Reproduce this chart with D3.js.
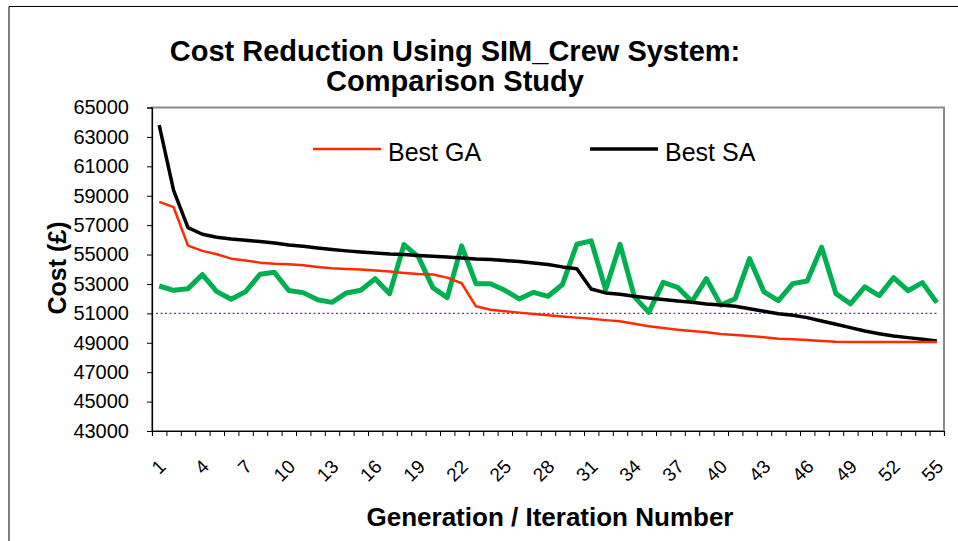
<!DOCTYPE html>
<html>
<head>
<meta charset="utf-8">
<script src="https://cdn.jsdelivr.net/npm/d3@7"></script>
<style>
  html, body { margin: 0; padding: 0; background: #fff; }
  svg { display: block; font-family: "Liberation Sans", Arial, sans-serif; }
</style>
</head>
<body>
<svg id="chart" width="958" height="541"></svg>
<script>
// ── Data ──────────────────────────────────────────────────────────────────────
const iterations = d3.range(1, 56);
const tickLabels = d3.range(1, 56, 3);
const yTicks = d3.range(43000, 65001, 2000);
const targetCost = 51000;

const bestGA = [
  58580, 58220, 55610, 55250, 55020, 54720, 54590, 54450, 54380, 54340,
  54270, 54160, 54070, 54020, 53980, 53910, 53840, 53750, 53680, 53640,
  53430, 53050, 51480, 51250, 51140, 51050, 50960, 50870, 50780, 50710,
  50640, 50540, 50460, 50300, 50120, 50000, 49890, 49800, 49710, 49600,
  49530, 49460, 49370, 49280, 49240, 49190, 49120, 49070, 49060, 49060,
  49060, 49060, 49060, 49060, 49060
];
const bestSA = [
  63800, 59370, 56830, 56380, 56180, 56060, 55970, 55880, 55790, 55650,
  55560, 55450, 55340, 55250, 55180, 55110, 55040, 55000, 54930, 54880,
  54840, 54770, 54700, 54660, 54590, 54520, 54430, 54320, 54160, 54040,
  52660, 52390, 52300, 52160, 52050, 51940, 51840, 51750, 51640, 51570,
  51480, 51320, 51140, 50980, 50870, 50710, 50480, 50260, 50030, 49800,
  49620, 49460, 49350, 49240, 49120
];
const simCrew = [
  52860, 52570, 52680, 53640, 52480, 51960, 52480, 53660, 53790, 52550,
  52410, 51930, 51750, 52390, 52570, 53360, 52340, 55680, 54840, 52750,
  52070, 55590, 53020, 53020, 52570, 51980, 52430, 52160, 52960, 55700,
  55930, 52620, 55700, 52120, 51070, 53110, 52770, 51800, 53360, 51560,
  52000, 54720, 52460, 51860, 53020, 53200, 55500, 52340, 51650, 52800,
  52200, 53430, 52540, 53090, 51730
];

const series = [
  { name: "sim", values: simCrew, color: "#00b050", width: 5 },
  { name: "Best SA", values: bestSA, color: "#000000", width: 3.5 },
  { name: "Best GA", values: bestGA, color: "#ff2a00", width: 2.5 }
];

// ── Layout ────────────────────────────────────────────────────────────────────
const plot = { left: 152, right: 944, top: 107.5, bottom: 431 };
const svg = d3.select("#chart");

// outer chart frame (top + left edges visible)
svg.append("path")
  .attr("d", "M9,541 V6.5 H958")
  .attr("fill", "none").attr("stroke", "#000").attr("stroke-width", 1);

const x = d3.scaleBand().domain(iterations).range([plot.left, plot.right]);
const xEdge = d3.scaleLinear().domain([0, 55]).range([plot.left, plot.right]);
const y = d3.scaleLinear().domain([43000, 65000]).range([plot.bottom, plot.top]);
const px = d => x(d) + x.bandwidth() / 2;

// plot area border
svg.append("rect")
  .attr("x", plot.left).attr("y", plot.top)
  .attr("width", plot.right - plot.left).attr("height", plot.bottom - plot.top)
  .attr("fill", "#fff").attr("stroke", "#8c8c8c").attr("stroke-width", 2);

// ── Axes ──────────────────────────────────────────────────────────────────────
const yAxis = svg.append("g")
  .attr("transform", `translate(${plot.left},0)`)
  .call(d3.axisLeft(y).tickValues(yTicks).tickSize(5).tickPadding(18).tickFormat(d3.format("d")));
yAxis.selectAll("text").attr("font-size", 20).attr("fill", "#000")
  .attr("font-family", "Liberation Sans, Arial, sans-serif");

const xTicks = svg.append("g")
  .attr("transform", `translate(0,${plot.bottom})`)
  .call(d3.axisBottom(xEdge).tickValues(d3.range(56)).tickSize(5).tickFormat(""));

const xLabels = svg.append("g")
  .attr("transform", `translate(0,${plot.bottom})`)
  .call(d3.axisBottom(x).tickValues(tickLabels).tickSize(0));
xLabels.select(".domain").remove();
xLabels.selectAll("text")
  .attr("font-size", 19).attr("fill", "#000")
  .attr("font-family", "Liberation Sans, Arial, sans-serif")
  .attr("text-anchor", "end")
  .attr("y", 0).attr("dy", "0.35em")
  .attr("transform", "translate(3,32) rotate(-45)");

[yAxis, xTicks].forEach(g => {
  g.select(".domain").attr("stroke", "#000").attr("stroke-width", 1.2);
  g.selectAll(".tick line").attr("stroke", "#000");
});

// ── Reference line ────────────────────────────────────────────────────────────
svg.append("line")
  .attr("x1", plot.left + 4).attr("x2", px(55))
  .attr("y1", y(targetCost)).attr("y2", y(targetCost))
  .attr("stroke", "#7030a0").attr("stroke-width", 1.3).attr("stroke-dasharray", "2,2.5");

// ── Lines ─────────────────────────────────────────────────────────────────────
const line = d3.line().x((d, i) => px(iterations[i])).y(d => y(d));
svg.append("g").selectAll("path").data(series).join("path")
  .attr("d", d => line(d.values))
  .attr("fill", "none")
  .attr("stroke", d => d.color)
  .attr("stroke-width", d => d.width)
  .attr("stroke-linejoin", "round");

// ── Legend ────────────────────────────────────────────────────────────────────
const legendItems = [
  { label: "Best GA", color: "#ff2a00", width: 2.5, x: 313 },
  { label: "Best SA", color: "#000000", width: 3.5, x: 590 }
];
const legend = svg.append("g").selectAll("g").data(legendItems).join("g")
  .attr("transform", d => `translate(${d.x},149)`);
legend.append("line").attr("x1", 0).attr("x2", 68)
  .attr("stroke", d => d.color).attr("stroke-width", d => d.width);
legend.append("text").attr("x", 75).attr("y", 12)
  .attr("font-size", 25).text(d => d.label);

// ── Titles ────────────────────────────────────────────────────────────────────
const title = svg.append("text").attr("text-anchor", "middle")
  .attr("font-size", 29).attr("font-weight", "bold");
title.append("tspan").attr("x", 455).attr("y", 61).text("Cost Reduction Using SIM_Crew System:");
title.append("tspan").attr("x", 455).attr("y", 91).text("Comparison Study");

svg.append("text")
  .attr("text-anchor", "middle").attr("font-size", 25).attr("font-weight", "bold")
  .attr("transform", "translate(66,268) rotate(-90)")
  .text("Cost (£)");

svg.append("text")
  .attr("x", 550).attr("y", 526)
  .attr("text-anchor", "middle").attr("font-size", 26).attr("font-weight", "bold")
  .text("Generation / Iteration Number");
</script>
</body>
</html>
